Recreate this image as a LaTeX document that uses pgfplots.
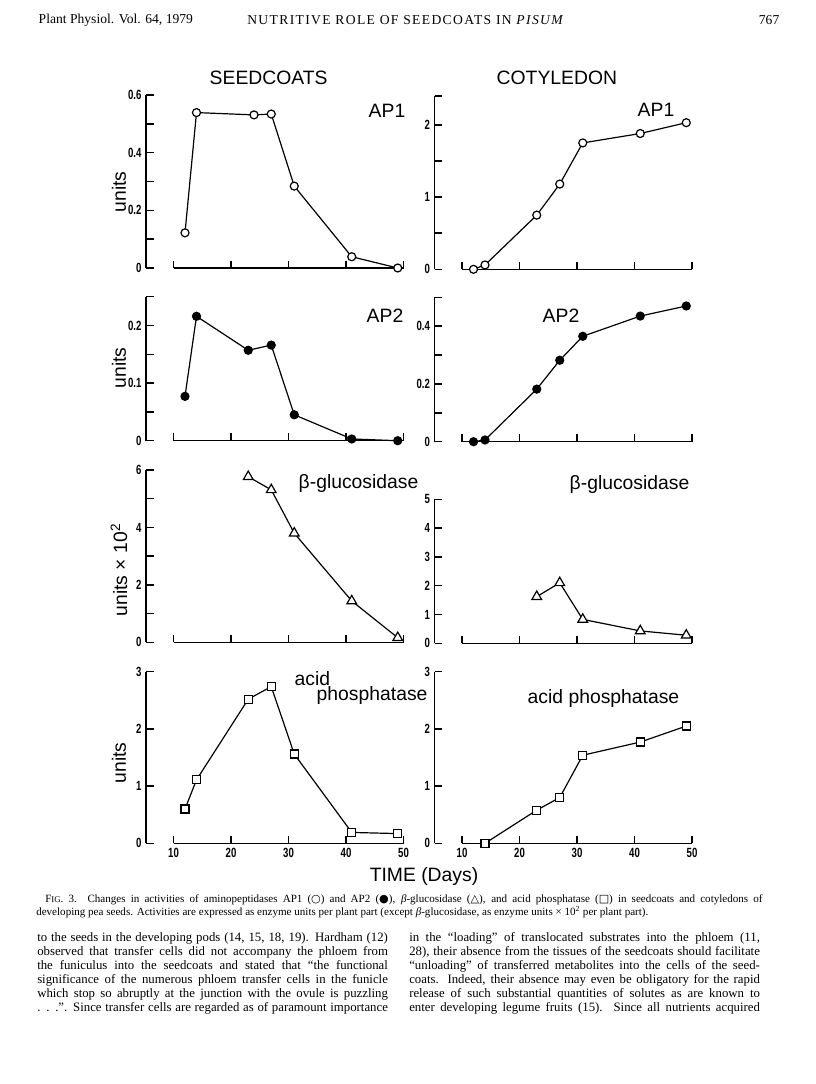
\documentclass[border=0pt]{standalone}
\usepackage{fontspec}
\setmainfont{Liberation Serif}
\newfontfamily\figfont{Liberation Sans}
\newfontfamily\narrowfam[FakeStretch=0.72]{Liberation Sans}
\newfontfamily\symfont{DejaVu Sans}
\usepackage{pgfplots}
\pgfplotsset{compat=1.18}

\newcommand\tickfont{\narrowfam\bfseries\fontsize{10}{10}\selectfont}
\newcommand\lab{\figfont\fontsize{14.5}{15}\selectfont}
\newcommand\bodyfont{\fontsize{9.6}{10}\selectfont}
\newcommand\capfont{\fontsize{8.3}{9}\selectfont}

\pgfplotsset{
  panel/.style={
    scale only axis, anchor=south west, width=172.5pt,
    xmin=10, xmax=50, ymin=0,
    axis x line*=bottom, axis y line*=left,
    axis line style={-, line width=1.1pt},
    axis y line shift=20.5pt,
    tick align=inside,
    major tick length=5.5pt, minor tick length=5.5pt,
    tick style={black, line width=1.1pt},
    xtick={10,20,30,40,50}, xticklabels={},
    tick label style={font=\tickfont},
    /pgf/number format/assume math mode=true,
    clip=false,
  },
  ser/.style={black, line width=0.9pt, mark size=3pt,
    mark options={solid, line width=0.9pt, fill=white}},
}

\begin{document}
\begin{tikzpicture}[x=0.75pt, y=0.75pt]
\path[fill=white] (0,0) rectangle (816,-1084);

% running head
\node[anchor=west, font=\fontsize{10.2}{11}\selectfont] at (34,-20) {Plant Physiol. Vol. 64, 1979};
\node[font=\fontsize{10.2}{11}\selectfont\addfontfeature{LetterSpace=10}] at (406,-20) {NUTRITIVE ROLE OF SEEDCOATS IN \textit{PISUM}};
\node[anchor=east, font=\fontsize{10.2}{11}\selectfont] at (784,-20) {767};

% --- seedcoats AP1
\begin{axis}[panel, at={(173.5*0.75pt,-268*0.75pt)}, height=129.75pt, ymax=0.6,
  ytick={0,0.2,0.4,0.6}, minor ytick={0.1,0.3,0.5}]
\addplot[ser, mark=*] coordinates {(12,0.122) (14,0.539) (24,0.531) (27,0.534) (31,0.284) (41,0.039) (49,0.0)};
\end{axis}
% --- cotyledon AP1
\begin{axis}[panel, at={(462*0.75pt,-269.3*0.75pt)}, height=130pt, ymax=2.4,
  ytick={0,1,2}, minor ytick={0.5,1.5,2.4}]
\addplot[ser, mark=*] coordinates {(12,0) (14,0.06) (23,0.75) (27,1.18) (31,1.75) (41,1.88) (49,2.03)};
\end{axis}
% --- seedcoats AP2
\begin{axis}[panel, at={(173.5*0.75pt,-440.7*0.75pt)}, height=108pt, ymax=0.25,
  ytick={0,0.1,0.2}, minor ytick={0.05,0.15,0.25}]
\addplot[ser, mark=*, mark options={fill=black}] coordinates {(12,0.077) (14,0.216) (23,0.157) (27,0.166) (31,0.045) (41,0.003) (49,0.0)};
\end{axis}
% --- cotyledon AP2
\begin{axis}[panel, at={(462*0.75pt,-441.7*0.75pt)}, height=108.3pt, ymax=0.5,
  ytick={0,0.2,0.4}, minor ytick={0.1,0.3,0.5}]
\addplot[ser, mark=*, mark options={fill=black}] coordinates {(12,0) (14,0.006) (23,0.182) (27,0.282) (31,0.365) (41,0.435) (49,0.470)};
\end{axis}
% --- seedcoats beta-glucosidase
\begin{axis}[panel, at={(173.5*0.75pt,-642.3*0.75pt)}, height=129.2pt, ymax=6,
  ytick={0,2,4,6}, minor ytick={1,3,5}]
\addplot[ser, mark=triangle*, mark size=4.2pt] coordinates {(23,5.77) (27,5.31) (31,3.80) (41,1.44) (49,0.16)};
\end{axis}
% --- cotyledon beta-glucosidase
\begin{axis}[panel, at={(462*0.75pt,-643.3*0.75pt)}, height=108pt, ymax=5,
  ytick={0,1,2,3,4,5}]
\addplot[ser, mark=triangle*, mark size=4.2pt] coordinates {(23,1.62) (27,2.10) (31,0.83) (41,0.43) (49,0.28)};
\end{axis}
% --- seedcoats acid phosphatase
\begin{axis}[panel, at={(173.5*0.75pt,-843.3*0.75pt)}, height=128.7pt, ymax=3,
  ytick={0,1,2,3}, xticklabels={10,20,30,40,50}]
\addplot[ser, mark=square*] coordinates {(12,0.60) (14,1.11) (23,2.52) (27,2.74) (31,1.56) (41,0.19) (49,0.17)};
\end{axis}
% --- cotyledon acid phosphatase
\begin{axis}[panel, at={(462*0.75pt,-843.3*0.75pt)}, height=128.7pt, ymax=3,
  ytick={0,1,2,3}, xticklabels={10,20,30,40,50}]
\addplot[ser, mark=square*] coordinates {(14,0.0) (23,0.58) (27,0.80) (31,1.54) (41,1.77) (49,2.05)};
\end{axis}

% figure lettering
\node[anchor=base west, font=\lab] at (205,-85) {SEEDCOATS};
\node[anchor=base west, font=\lab] at (492,-85) {COTYLEDON};
\node[anchor=base west, font=\lab] at (364,-118) {AP1};
\node[anchor=base west, font=\lab] at (633,-117) {AP1};
\node[anchor=base west, font=\lab] at (362,-322) {AP2};
\node[anchor=base west, font=\lab] at (538,-322) {AP2};
\node[anchor=base west, font=\lab] at (294,-488) {β-glucosidase};
\node[anchor=base west, font=\lab] at (565,-489) {β-glucosidase};
\node[anchor=base west, font=\lab] at (290,-685) {acid};
\node[anchor=base west, font=\lab] at (312,-700) {phosphatase};
\node[anchor=base west, font=\lab] at (523,-703) {acid phosphatase};
\node[rotate=90, font=\lab] at (119,-192) {units};
\node[rotate=90, font=\lab] at (119,-368) {units};
\node[rotate=90, font=\lab] at (119,-570) {units × 10\textsuperscript{2}};
\node[rotate=90, font=\lab] at (119,-763) {units};
\node[font=\lab] at (424,-876) {TIME (Days)};

% caption
\node[anchor=base west, inner sep=0pt, font=\capfont] at (45,-902) {\makebox[538pt][s]{F{\fontsize{6.6}{7}\selectfont IG}. 3. Changes in activities of aminopeptidases AP1 ({\symfont ○}) and AP2 ({\symfont ●}), \textit{β}-glucosidase ({\symfont △}), and acid phosphatase ({\symfont □}) in seedcoats and cotyledons of}};
\node[anchor=base west, inner sep=0pt, font=\capfont] at (36,-915) {developing pea seeds. Activities are expressed as enzyme units per plant part (except \textit{β}-glucosidase, as enzyme units × 10\textsuperscript{2} per plant part).};

% body text
\begin{scope}[every node/.style={anchor=base west, inner sep=0pt, font=\bodyfont}]
\node at (37,-941) {\makebox[263pt][s]{to the seeds in the developing pods (14, 15, 18, 19). Hardham (12)}};
\node at (37,-955) {\makebox[263pt][s]{observed that transfer cells did not accompany the phloem from}};
\node at (37,-969) {\makebox[263pt][s]{the funiculus into the seedcoats and stated that “the functional}};
\node at (37,-983) {\makebox[263pt][s]{significance of the numerous phloem transfer cells in the funicle}};
\node at (37,-997) {\makebox[263pt][s]{which stop so abruptly at the junction with the ovule is puzzling}};
\node at (37,-1011) {\makebox[263pt][s]{. . .”. Since transfer cells are regarded as of paramount importance}};
\node at (409,-941) {\makebox[263pt][s]{in the “loading” of translocated substrates into the phloem (11,}};
\node at (409,-955) {\makebox[263pt][s]{28), their absence from the tissues of the seedcoats should facilitate}};
\node at (409,-969) {\makebox[263pt][s]{“unloading” of transferred metabolites into the cells of the seed-}};
\node at (409,-983) {\makebox[263pt][s]{coats. Indeed, their absence may even be obligatory for the rapid}};
\node at (409,-997) {\makebox[263pt][s]{release of such substantial quantities of solutes as are known to}};
\node at (409,-1011) {\makebox[263pt][s]{enter developing legume fruits (15). Since all nutrients acquired}};
\end{scope}
\end{tikzpicture}
\end{document}
